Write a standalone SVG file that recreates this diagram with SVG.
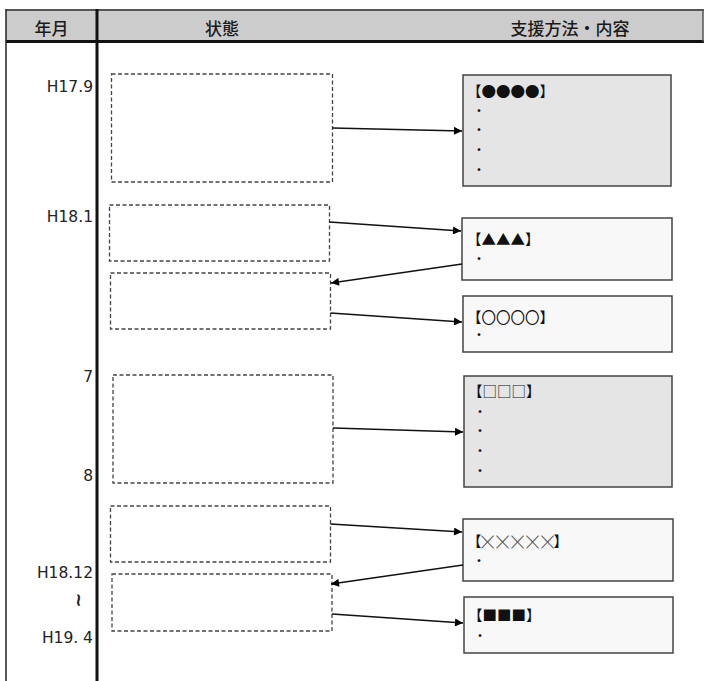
<svg xmlns="http://www.w3.org/2000/svg" width="704" height="681" viewBox="0 0 704 681">
<defs>
<marker id="ah" viewBox="0 0 10 10" refX="10" refY="5" markerWidth="9" markerHeight="8" markerUnits="userSpaceOnUse" orient="auto">
<path d="M0,0 L10,5 L0,10 z" fill="#000"/>
</marker>
<style>
.hd{font-family:"Noto Sans CJK JP","Noto Sans CJK SC",sans-serif;font-size:17px;font-weight:500;fill:#1a1a1a;text-anchor:middle}
.lb{font-family:"DejaVu Sans","Liberation Sans",sans-serif;font-size:15.5px;fill:#222;text-anchor:end}
.st{fill:#fff;stroke:#444;stroke-width:1.3;stroke-dasharray:4 2.5}
.bx{stroke:#444;stroke-width:1.5}
.g{fill:#e5e5e5}
.w{fill:#f8f8f8}
.tt{font-family:"Noto Sans CJK JP","Noto Sans CJK SC",sans-serif;font-size:14.5px;fill:#111}
.dt{font-family:"Noto Sans CJK JP","Noto Sans CJK SC",sans-serif;font-size:11px;font-weight:bold;fill:#111}
.cn{stroke:#111;stroke-width:1.3;fill:none;marker-end:url(#ah)}
</style>
</defs>
<rect width="704" height="681" fill="#fff"/>
<g id="table">
<rect x="6" y="10" width="697" height="31" fill="#cccccc"/>
<line x1="6" y1="10" x2="704" y2="10" stroke="#555" stroke-width="2"/>
<line x1="6" y1="41.5" x2="704" y2="41.5" stroke="#111" stroke-width="3"/>
<line x1="6" y1="9" x2="6" y2="681" stroke="#222" stroke-width="1.5"/>
<line x1="97" y1="9" x2="97" y2="681" stroke="#111" stroke-width="3"/>
<line x1="703" y1="9" x2="703" y2="42" stroke="#555" stroke-width="1.5"/>
<text class="hd" x="51.5" y="35">年月</text>
<text class="hd" x="222" y="35">状態</text>
<text class="hd" x="570" y="35">支援方法・内容</text>
</g>
<g id="labels">
<text class="lb" x="93" y="92">H17.9</text>
<text class="lb" x="93" y="222">H18.1</text>
<text class="lb" x="93" y="382">7</text>
<text class="lb" x="93" y="481">8</text>
<text class="lb" x="93" y="578">H18.12</text>
<text x="79" y="600" transform="rotate(90 79 600)" text-anchor="middle" dominant-baseline="central" style="font-family:'DejaVu Sans',sans-serif;font-size:18px;font-weight:bold;fill:#222">~</text>
<text class="lb" x="93" y="643">H19. 4</text>
</g>
<g id="state1"><rect class="st" x="111.5" y="74" width="221" height="108"/></g>
<g id="state2"><rect class="st" x="109.5" y="205" width="220" height="56"/></g>
<g id="state3"><rect class="st" x="110.5" y="273" width="220" height="56"/></g>
<g id="state4"><rect class="st" x="113" y="375" width="220" height="108"/></g>
<g id="state5"><rect class="st" x="110.5" y="506" width="220" height="56"/></g>
<g id="state6"><rect class="st" x="112" y="574" width="220" height="57"/></g>
<g id="support1">
<rect class="bx g" x="463" y="75" width="208" height="111"/>
<text class="tt" x="467" y="97">【●●●●】</text>
<text class="dt" x="473.5" y="115">・</text>
<text class="dt" x="473.5" y="134">・</text>
<text class="dt" x="473.5" y="154">・</text>
<text class="dt" x="473.5" y="174">・</text>
</g>
<g id="support2">
<rect class="bx w" x="462" y="218" width="210" height="62"/>
<text class="tt" x="467" y="245">【▲▲▲】</text>
<text class="dt" x="473.5" y="263">・</text>
</g>
<g id="support3">
<rect class="bx w" x="463" y="296" width="209" height="56"/>
<text class="tt" x="467" y="323">【〇〇〇〇】</text>
<text class="dt" x="473.5" y="338.5">・</text>
</g>
<g id="support4">
<rect class="bx g" x="464" y="376" width="208" height="111"/>
<text class="tt" x="468" y="397">【□□□】</text>
<text class="dt" x="474.5" y="416">・</text>
<text class="dt" x="474.5" y="435">・</text>
<text class="dt" x="474.5" y="455">・</text>
<text class="dt" x="474.5" y="475">・</text>
</g>
<g id="support5">
<rect class="bx w" x="463" y="519" width="210" height="62"/>
<text class="tt" x="467" y="547">【<tspan fill="#555" stroke="#555" stroke-width="0.4" font-size="12px" letter-spacing="3px">╳╳╳╳</tspan><tspan fill="#555" stroke="#555" stroke-width="0.4" font-size="12px">╳</tspan>】</text>
<text class="dt" x="473.5" y="565">・</text>
</g>
<g id="support6">
<rect class="bx w" x="464" y="597" width="209" height="56"/>
<text class="tt" x="468" y="621">【■■■】</text>
<text class="dt" x="474.5" y="640">・</text>
</g>
<g id="connectors">
<line class="cn" x1="332.5" y1="128" x2="462" y2="131"/>
<line class="cn" x1="329.5" y1="222" x2="461" y2="231"/>
<line class="cn" x1="462" y1="264" x2="331" y2="283"/>
<line class="cn" x1="330.5" y1="313" x2="462" y2="322"/>
<line class="cn" x1="333" y1="428" x2="463" y2="432"/>
<line class="cn" x1="330.5" y1="524" x2="462" y2="532"/>
<line class="cn" x1="463" y1="565" x2="331" y2="584"/>
<line class="cn" x1="332" y1="614" x2="463" y2="623"/>
</g>
</svg>
